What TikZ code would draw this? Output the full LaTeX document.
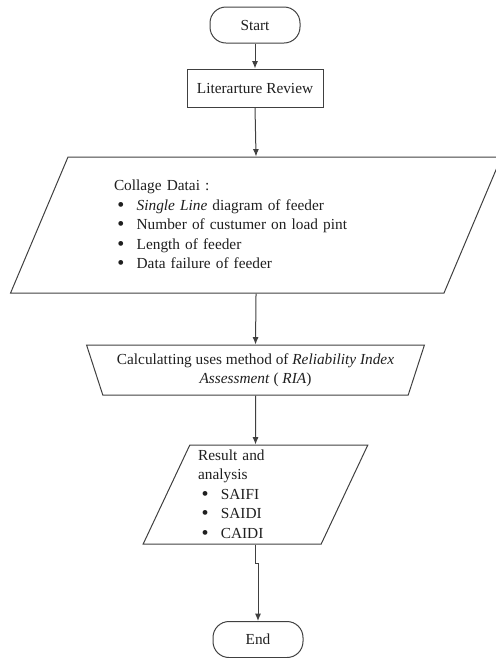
\documentclass[tikz,border=0pt]{standalone}
\usepackage{fontspec}
\setmainfont{Liberation Serif}
\usetikzlibrary{shapes.geometric,arrows.meta}
\definecolor{line gray}{rgb}{0.25, 0.25, 0.25}
\definecolor{text gray}{rgb}{0.12, 0.12, 0.12}
\newcommand{\bul}[1]{\hspace*{2.5pt}\makebox[14.5pt][l]{\raisebox{-0.6pt}{\fontsize{15}{14.6}\selectfont\textbullet}}#1}

\begin{document}
\begin{tikzpicture}[x=0.75pt, y=-0.75pt,
		font=\fontsize{11.5}{14.6}\selectfont,
		box/.style={draw=line gray, line width=0.75pt, text=text gray},
		terminal/.style={box, rounded corners=12pt, minimum width=67.5pt, minimum height=27pt},
		process/.style={box, minimum width=102pt, minimum height=28.5pt},
		io/.style={box, trapezium, trapezium left angle=65.5, trapezium right angle=114.5,
			trapezium stretches=true, align=left},
		manual/.style={box, trapezium, trapezium left angle=113.7, trapezium right angle=113.7,
			trapezium stretches=true, align=center},
		flow/.style={draw=line gray, line width=0.75pt, -{Latex[length=5.5pt, width=4.5pt]}}]
			\clip (0, 0) rectangle (496, 658);
			% Part for the boxes
			\node[terminal] (start) at (255, 25) {Start};
			\node[process] (review) at (255, 88) {Literarture Review};
			\node[io, minimum width=369pt, minimum height=102pt, text width=213pt]
				(collect) at (256, 225)
				{Collage Datai :\\
				\bul{\textit{Single Line} diagram of feeder}\\
				\bul{Number of custumer on load pint}\\
				\bul{Length of feeder}\\
				\bul{Data failure of feeder}};
			\node[manual, minimum width=254.25pt, minimum height=37.5pt, inner sep=0pt]
				(calc) at (255.5, 370)
				{Calculatting uses method of \textit{Reliability Index}\\
				\textit{Assessment} ( \textit{RIA})};
			\node[io, minimum width=168.75pt, minimum height=74.25pt, text width=86pt, inner sep=0pt]
				(result) at (255.5, 494.5)
				{Result and\\
				analysis\\
				\bul{SAIFI}\\
				\bul{SAIDI}\\
				\bul{CAIDI}};
			\node[terminal] (end) at (258, 639.5) {End};
			% Part for the arrows
			\draw[flow] (start.south) -- (review.north);
			\draw[flow] (review.south) -- (collect.north);
			\draw[flow] (collect.south) -- (calc.north);
			\draw[flow] (calc.south) -- (result.north);
			\draw[flow] (result.south) -- ++(0, 19) -| (end.north);
		\end{tikzpicture}
\end{document}
